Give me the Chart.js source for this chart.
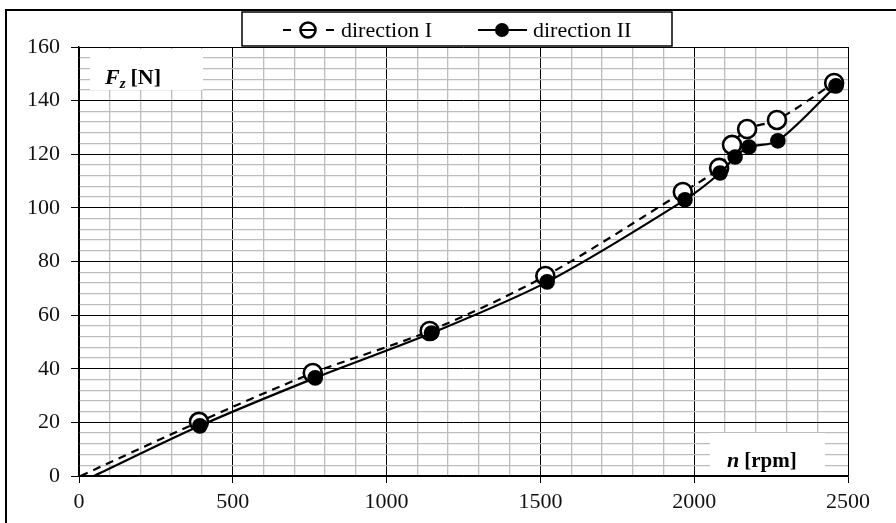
<!DOCTYPE html>
<html><head><meta charset="utf-8">
<script src="https://cdn.jsdelivr.net/npm/chart.js@4/dist/chart.umd.min.js"></script>
<style>html,body{margin:0;padding:0;background:#fff}canvas{display:block}</style>
</head><body>
<canvas id="c" width="896" height="523"></canvas>
<script>
// Axial force F_z versus rotational speed n, two rotation directions
const seriesNames = ['direction I', 'direction II'];
const speedI  = [5, 390, 760, 1140, 1516, 1963, 2081, 2123, 2172, 2269, 2455];
const forceI  = [0, 20.2, 38.4, 54.1, 74.6, 105.9, 114.9, 123.5, 129.4, 132.8, 146.6];
const speedII = [49, 393, 768, 1146, 1522, 1970, 2084, 2133, 2178, 2272, 2461];
const forceII = [0, 18.7, 36.6, 53.3, 72.4, 103.0, 113.0, 119.0, 122.7, 125.0, 145.5];
const xTickLabels = [0, 500, 1000, 1500, 2000, 2500];
const yTickLabels = [0, 20, 40, 60, 80, 100, 120, 140, 160];

const SERIF = "'Liberation Serif', 'Times New Roman', serif";

const toPoints = (xs, ys) => xs.map((x, i) => ({ x, y: ys[i] }));
// the first entry of each series is only the start of the curve, no marker
const radii = (xs, r) => xs.map((_, i) => (i === 0 ? 0 : r));

const majorX = v => xTickLabels.includes(v);
const majorY = v => yTickLabels.includes(v);

// frame, label boxes and legend
const decorations = {
  id: 'decorations',
  beforeDraw(chart) {
    const c = chart.ctx;
    c.save();
    c.fillStyle = '#fff';
    c.fillRect(0, 0, chart.width, chart.height);
    c.strokeStyle = '#000';
    c.lineWidth = 2;
    c.beginPath();
    c.moveTo(6, chart.height);
    c.lineTo(6, 10);
    c.lineTo(chart.width, 10);
    c.stroke();
    c.restore();
  },
  beforeDatasetsDraw(chart) {
    const c = chart.ctx;
    c.save();
    c.fillStyle = '#fff';
    c.fillRect(90, 49, 113, 41);
    c.fillRect(710, 433, 115, 42);
    c.fillStyle = '#000';
    c.textBaseline = 'alphabetic';
    // F_z [N]
    let x = 105;
    c.font = `italic bold 22px ${SERIF}`;
    c.fillText('F', x, 84);
    x += c.measureText('F').width;
    c.font = `italic bold 15px ${SERIF}`;
    c.fillText('z', x, 88);
    x += c.measureText('z').width + 5;
    c.font = `bold 22px ${SERIF}`;
    c.fillText('[N]', x, 84);
    // n [rpm]
    x = 727;
    c.font = `italic bold 22px ${SERIF}`;
    c.fillText('n', x, 467);
    x += c.measureText('n').width + 5;
    c.font = `bold 21px ${SERIF}`;
    c.fillText('[rpm]', x, 467);
    c.restore();
  },
  afterDraw(chart) {
    const c = chart.ctx;
    c.save();
    c.fillStyle = '#fff';
    c.fillRect(242, 12, 430, 34);
    c.strokeStyle = '#000';
    c.lineWidth = 1.5;
    c.strokeRect(242, 12, 430, 34);
    const cy = 30;
    c.lineWidth = 2.2;
    // direction I: dash - open circle - dash
    c.beginPath();
    c.moveTo(283, cy); c.lineTo(291, cy);
    c.moveTo(326, cy); c.lineTo(334, cy);
    c.moveTo(300, cy); c.lineTo(316, cy);
    c.stroke();
    c.beginPath();
    c.lineWidth = 2.6;
    c.arc(308, cy, 7.5, 0, Math.PI * 2);
    c.stroke();
    // direction II: line - filled circle - line
    c.lineWidth = 2.2;
    c.beginPath();
    c.moveTo(478, cy); c.lineTo(527, cy);
    c.stroke();
    c.beginPath();
    c.fillStyle = '#000';
    c.arc(502, cy, 7, 0, Math.PI * 2);
    c.fill();
    c.font = `22px ${SERIF}`;
    c.textBaseline = 'middle';
    c.fillText(chart.data.datasets[0].label, 341, cy + 1);
    c.fillText(chart.data.datasets[1].label, 533, cy + 1);
    c.restore();
  }
};

new Chart(document.getElementById('c'), {
  type: 'scatter',
  data: {
    datasets: [
      {
        label: seriesNames[0],
        data: toPoints(speedI, forceI),
        order: 2,
        showLine: true,
        tension: 0.3,
        borderColor: '#000',
        borderWidth: 2.2,
        borderDash: [8, 6],
        pointRadius: radii(speedI, 9),
        pointBorderWidth: 2.6,
        pointBackgroundColor: '#fff',
        pointBorderColor: '#000'
      },
      {
        label: seriesNames[1],
        data: toPoints(speedII, forceII),
        order: 1,
        showLine: true,
        tension: 0.3,
        borderColor: '#000',
        borderWidth: 2.2,
        pointRadius: radii(speedII, 7.8),
        pointBorderWidth: 0,
        pointBackgroundColor: '#000',
        pointBorderColor: '#000'
      }
    ]
  },
  options: {
    responsive: false,
    animation: false,
    layout: { padding: { left: 0, top: 47, right: 48, bottom: 0 } },
    plugins: { legend: { display: false }, tooltip: { enabled: false } },
    scales: {
      x: {
        type: 'linear',
        min: 0, max: 2500,
        afterFit: s => { s.height = 47; },
        border: { display: true, color: '#000', width: 1.5 },
        grid: {
          color: ctx => majorX(ctx.tick.value) ? '#000' : '#bdbdbd',
          lineWidth: ctx => majorX(ctx.tick.value) ? 1 : 1.3,
          tickColor: ctx => majorX(ctx.tick.value) ? '#000' : 'rgba(0,0,0,0)',
          tickLength: 7
        },
        ticks: {
          stepSize: 100,
          autoSkip: false,
          maxRotation: 0,
          padding: 6,
          color: '#111',
          font: { family: SERIF, size: 22 },
          callback: v => majorX(v) ? String(v) : ''
        }
      },
      y: {
        min: 0, max: 160,
        afterFit: s => { s.width = 79; },
        border: { display: true, color: '#000', width: 1.5 },
        grid: {
          color: ctx => majorY(ctx.tick.value) ? '#000' : '#bdbdbd',
          lineWidth: ctx => majorY(ctx.tick.value) ? 1 : 1.3,
          tickColor: ctx => majorY(ctx.tick.value) ? '#000' : 'rgba(0,0,0,0)',
          tickLength: 8
        },
        ticks: {
          stepSize: 4,
          autoSkip: false,
          padding: 11,
          color: '#111',
          font: { family: SERIF, size: 22 },
          callback: v => majorY(v) ? String(v) : ''
        }
      }
    }
  },
  plugins: [decorations]
});
</script>
</body></html>
